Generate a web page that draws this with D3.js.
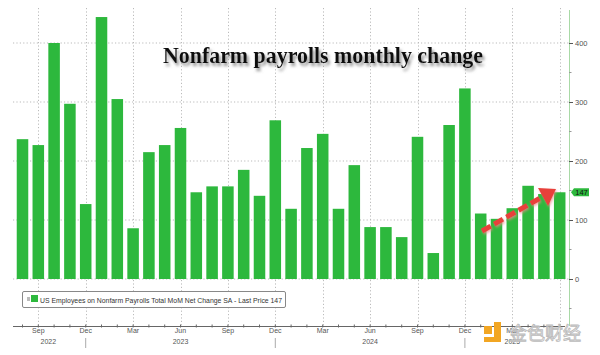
<!DOCTYPE html>
<html><head><meta charset="utf-8">
<script src="https://cdn.jsdelivr.net/npm/d3@7"></script>
<style>
html,body{margin:0;padding:0;background:#fff;}
svg{display:block;}
</style></head>
<body>
<svg id="chart" width="600" height="355"></svg>
<script>
// ---- data ----
const months = ["2022-08","2022-09","2022-10","2022-11","2022-12",
 "2023-01","2023-02","2023-03","2023-04","2023-05","2023-06","2023-07","2023-08","2023-09","2023-10","2023-11","2023-12",
 "2024-01","2024-02","2024-03","2024-04","2024-05","2024-06","2024-07","2024-08","2024-09","2024-10","2024-11","2024-12",
 "2025-01","2025-02","2025-03","2025-04","2025-05","2025-06"];
const payrolls = [237,227,400,297,127,
 444,305,86,215,227,256,147,157,157,185,141,269,
 119,222,246,119,193,88,88,71,241,44,261,323,
 111,102,120,158,144,147];
const monthTickLabels = {"09":"Sep","12":"Dec","03":"Mar","06":"Jun"};
const lastLabeledMonth = "2025-03";
const yearLabels = [{at:"2022-09",label:"2022"},{at:"2023-06",label:"2023"},{at:"2024-06",label:"2024"},{at:"2025-03",label:"2025"}];
const yMajorTicks = [0,100,200,300,400];
const yMinorTicks = [-50,50,150,250,350];
const lastPrice = 147;
const titleText = "Nonfarm payrolls monthly change";
const legendText = "US Employees on Nonfarm Payrolls Total MoM Net Change SA - Last Price 147";

// ---- layout ----
const svg = d3.select("#chart");
const plotLeft = 13, plotRight = 569, plotTop = 8, plotBottom = 326;
const green = "#2db83d";

const x = d3.scaleBand().domain(months).range([14.6, 567.6]).paddingInner(0.27).paddingOuter(0.135);
const y = d3.scaleLinear().domain([0, 400]).range([279, 43]);

const defs = svg.append("defs");
const f = defs.append("filter").attr("id","shadow").attr("x","-10%").attr("y","-30%").attr("width","120%").attr("height","170%");
f.append("feDropShadow").attr("dx",2).attr("dy",3).attr("stdDeviation",1.6).attr("flood-color","#777").attr("flood-opacity",0.8);
const f2 = defs.append("filter").attr("id","ashadow").attr("x","-20%").attr("y","-40%").attr("width","140%").attr("height","180%");
f2.append("feDropShadow").attr("dx",1).attr("dy",1.5).attr("stdDeviation",1.2).attr("flood-color","#e88").attr("flood-opacity",0.7);

// gridlines
const grid = svg.append("g");
grid.selectAll("line.h").data(yMajorTicks).join("line")
  .attr("x1", plotLeft).attr("x2", plotRight)
  .attr("y1", d => y(d)).attr("y2", d => y(d))
  .attr("stroke","#bbb").attr("stroke-width",1).attr("stroke-dasharray","1.2,2.2");
const quarterMonths = months.filter(m => monthTickLabels[m.slice(5)]);
grid.selectAll("line.v").data(quarterMonths).join("line")
  .attr("x1", d => Math.round(x(d) + x.bandwidth()/2) + 0.5).attr("x2", d => Math.round(x(d) + x.bandwidth()/2) + 0.5)
  .attr("y1", plotTop).attr("y2", plotBottom)
  .attr("stroke","#bbb").attr("stroke-width",1).attr("stroke-dasharray","1.2,2.2");

// bars
svg.append("g").selectAll("rect").data(months).join("rect")
  .attr("x", (d) => x(d)).attr("width", x.bandwidth())
  .attr("y", (d,i) => y(Math.max(0, payrolls[i])))
  .attr("height", (d,i) => Math.abs(y(payrolls[i]) - y(0)))
  .attr("fill", green);

// right axis
const yAxisG = svg.append("g").attr("transform", `translate(${plotRight},0)`);
yAxisG.append("line").attr("x1",0.5).attr("x2",0.5).attr("y1",plotTop+2).attr("y2",plotBottom).attr("stroke","#a9d9a6").attr("stroke-width",1);
const yAxis = d3.axisRight(y).tickValues(yMajorTicks).tickSize(4).tickPadding(2);
yAxisG.call(yAxis);
yAxisG.select(".domain").remove();
yAxisG.selectAll(".tick line").attr("stroke","#555");
yAxisG.selectAll(".tick text").attr("fill","#555").attr("font-size",7.5).attr("font-family","Liberation Sans, Arial, sans-serif");
yAxisG.selectAll("line.minor").data(yMinorTicks).join("line").attr("class","minor")
  .attr("x1",0).attr("x2",2.5).attr("y1",d=>y(d)).attr("y2",d=>y(d)).attr("stroke","#999");

// bottom axis
const xAxisG = svg.append("g").attr("transform", `translate(0,${plotBottom})`);
xAxisG.append("line").attr("x1",plotLeft).attr("x2",plotRight-4).attr("y1",0.5).attr("y2",0.5).attr("stroke","#666");
const xAxis = d3.axisBottom(x).tickSize(2).tickSizeOuter(0)
  .tickFormat(d => d <= lastLabeledMonth ? (monthTickLabels[d.slice(5)] || "") : "");
xAxisG.call(xAxis);
xAxisG.select(".domain").remove();
xAxisG.selectAll(".tick line").attr("stroke","#666").attr("y1",-1.5).attr("y2",1.5);
xAxisG.selectAll(".tick text").attr("fill","#555").attr("font-size",7).attr("dy","0.6em").attr("y",3)
  .attr("font-family","Liberation Sans, Arial, sans-serif");
// year separators
const decs = months.filter(m => m.slice(5) === "12");
xAxisG.selectAll("line.ysep").data(decs).join("line").attr("class","ysep")
  .attr("x1", d => x(d)+x.bandwidth()/2).attr("x2", d => x(d)+x.bandwidth()/2)
  .attr("y1", 12).attr("y2", 22).attr("stroke","#aaa");
xAxisG.selectAll("text.year").data(yearLabels).join("text").attr("class","year")
  .attr("x", (d,i) => x(d.at)+x.bandwidth()/2 + (i===0?10:0)).attr("y", 18)
  .attr("text-anchor","middle").attr("fill","#555").attr("font-size",7)
  .attr("font-family","Liberation Sans, Arial, sans-serif").text(d => d.label);

// title
svg.append("text").attr("x",323).attr("y",63).attr("text-anchor","middle")
  .attr("font-family","Liberation Serif, Times New Roman, serif").attr("font-weight","bold")
  .attr("font-size",24).attr("fill","#111").attr("filter","url(#shadow)")
  .attr("textLength",320).attr("lengthAdjust","spacingAndGlyphs")
  .text(titleText);

// legend
const lg = svg.append("g");
lg.append("rect").attr("x",22.5).attr("y",291.5).attr("width",263).attr("height",16).attr("rx",1.5)
  .attr("fill","#fff").attr("stroke","#888");
lg.append("rect").attr("x",27).attr("y",297).attr("width",3).attr("height",4).attr("fill","#bbb");
lg.append("rect").attr("x",31).attr("y",295).attr("width",7).attr("height",7).attr("fill",green);
lg.append("text").attr("x",40).attr("y",302.5).attr("font-size",8).attr("fill","#333")
  .attr("font-family","Liberation Sans, Arial, sans-serif")
  .attr("textLength",242).attr("lengthAdjust","spacingAndGlyphs").text(legendText);

// last price tag
const ly = y(lastPrice);
svg.append("path").attr("d", `M571,${ly} L574,${ly-4} L589,${ly-4} L589,${ly+4} L574,${ly+4} Z`).attr("fill", green);
svg.append("text").attr("x",581.5).attr("y",ly+2.6).attr("text-anchor","middle").attr("font-size",7.5)
  .attr("fill","#111").attr("font-family","Liberation Sans, Arial, sans-serif").text(lastPrice);

// red dashed arrow
const ag = svg.append("g").attr("filter","url(#ashadow)");
ag.append("line").attr("x1",482).attr("y1",231).attr("x2",542).attr("y2",197)
  .attr("stroke","#e8403a").attr("stroke-width",5).attr("stroke-dasharray","10,4");
ag.append("path").attr("d","M556,189 L538,188 L548,206 Z").attr("fill","#e8403a");

// watermark
const wm = svg.append("g");
wm.append("rect").attr("x",484).attr("y",326).attr("width",8).attr("height",8).attr("fill","#f2a623");
wm.append("path").attr("d","M494,322 L501,322 L501,342 L484,342 L484,337 L494,337 Z").attr("fill","#f2a623");
wm.append("text").attr("x",509).attr("y",340).attr("font-size",18)
  .attr("font-family","Noto Sans CJK SC, sans-serif").attr("fill","#fff").attr("fill-opacity",0.6)
  .attr("stroke","#bbb").attr("stroke-width",0.9).text("金色财经");
</script>
</body></html>
